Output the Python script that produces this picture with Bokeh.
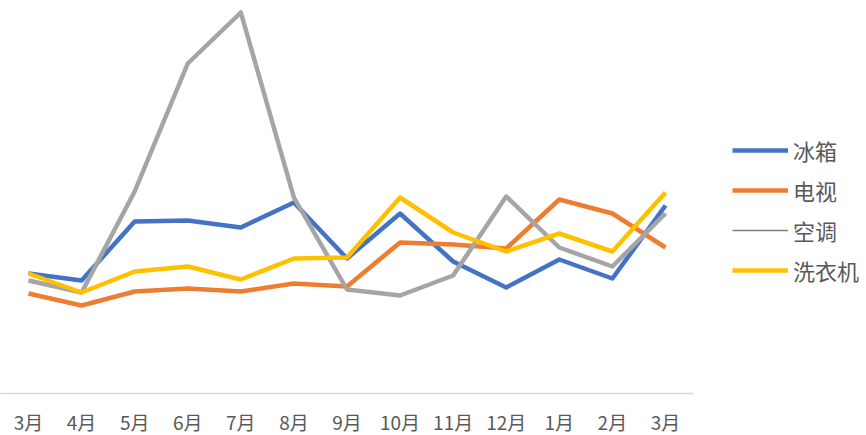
from bokeh.plotting import figure
from bokeh.models import Legend, LegendItem, FixedTicker, Range1d
from bokeh.embed import file_html
from bokeh.resources import INLINE

months = ["3月", "4月", "5月", "6月", "7月", "8月", "9月", "10月", "11月", "12月", "1月", "2月", "3月"]
fridge = [120, 113, 172, 173, 166, 191, 135, 180, 132, 106, 134, 115, 188]
tv = [100, 88, 102, 105, 102, 110, 107, 151, 149, 145, 194, 180, 146]
aircon = [113, 101, 202, 330, 381, 196, 104, 98, 118, 197, 146, 127, 180]
washer = [120, 101, 122, 127, 114, 135, 136, 196, 161, 142, 160, 142, 201]
series_names = ["冰箱", "电视", "空调", "洗衣机"]
colors = ["#4472C4", "#ED7D31", "#A5A5A5", "#FFC000"]

x = list(range(len(months)))
FONT = "Noto Sans CJK SC"

p = figure(frame_width=693, frame_height=393, output_backend="svg", toolbar_location=None,
           x_range=Range1d(-0.5275, 12.528), y_range=Range1d(0, 393),
           min_border_left=0, min_border_top=0, min_border_right=168, min_border_bottom=0)
p.outline_line_color = None
p.grid.visible = False
p.yaxis.visible = False
p.background_fill_color = "white"

renderers = []
for vals, c in zip([fridge, tv, aircon, washer], colors):
    r = p.line(x, vals, line_color=c, line_width=4.5, line_join="round")
    renderers.append(r)

# thin legend glyph for 空调 (kept outside the visible range)
thin = p.line([-5, -4], [-50, -50], line_color="#7F7F7F", line_width=1.3)

xa = p.xaxis[0]
xa.ticker = FixedTicker(ticks=x)
xa.major_label_overrides = {i: m for i, m in enumerate(months)}
xa.major_tick_line_color = None
xa.minor_tick_line_color = None
xa.axis_line_color = "#D9D9D9"
xa.axis_line_width = 1.5
xa.major_label_text_font = FONT
xa.major_label_text_font_size = "19px"
xa.major_label_text_color = "#595959"
xa.major_label_standoff = 8

items = [
    LegendItem(label=series_names[0], renderers=[renderers[0]]),
    LegendItem(label=series_names[1], renderers=[renderers[1]]),
    LegendItem(label=series_names[2], renderers=[thin]),
    LegendItem(label=series_names[3], renderers=[renderers[3]]),
]
legend = Legend(items=items, location=(39, 107), orientation="vertical",
                label_text_font=FONT, label_text_font_size="22px",
                label_text_color="#595959", glyph_width=56, glyph_height=20,
                spacing=8, label_standoff=5, border_line_color=None,
                background_fill_alpha=0, margin=0, padding=0)
p.add_layout(legend, "right")

open("out.html", "w").write(file_html(p, INLINE))
